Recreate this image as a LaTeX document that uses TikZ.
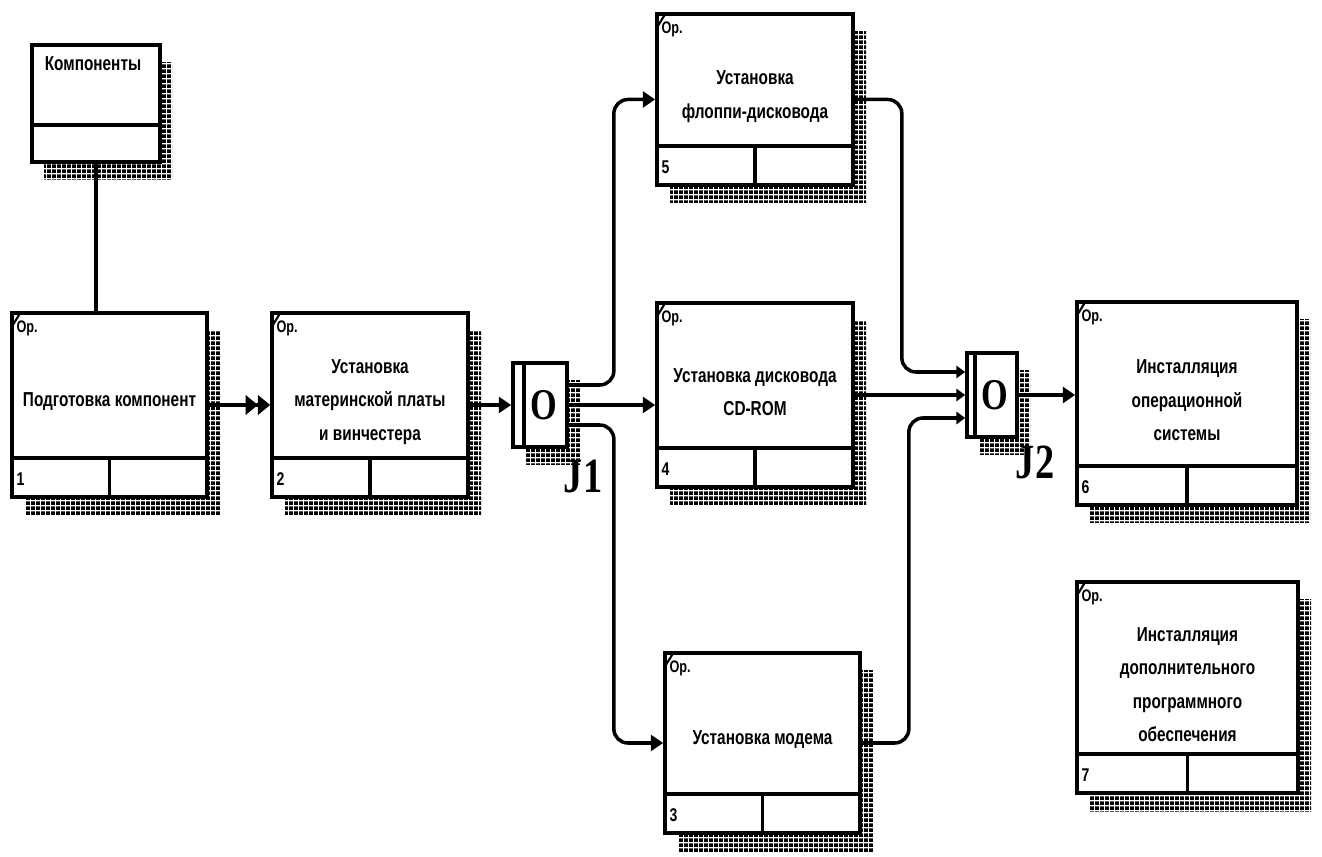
\documentclass[tikz,border=0pt]{standalone}
\usepackage{fontspec}
\setmainfont{Liberation Sans}[FakeStretch=0.76]
\newfontfamily\jfont{Liberation Serif}[FakeStretch=0.78]
\usetikzlibrary{arrows.meta,positioning,calc,patterns,fit}

% dithered shadow
\pgfdeclarepatternformonly{dither}{\pgfpointorigin}{\pgfqpoint{3pt}{3pt}}{\pgfqpoint{3pt}{3pt}}{%
  \pgfpathrectangle{\pgfpointorigin}{\pgfqpoint{2.5pt}{2.3pt}}\pgfusepath{fill}}

% unit of work: name, x1, y1, x2, y2, number, text
\newcommand{\uow}[7]{%
  \fill[pattern=dither] (#2+13,#3+18) rectangle (#4+13,#5+18);
  \node[uowbox, fit={(#2,#3) (#4,#5)}] (#1) {};
  \draw[thick line] ($(#1.south west)+(0,-41)$) -- ($(#1.south east)+(0,-41)$);
  \draw[thick line] ($(#1.south)+(0,-41)$) -- (#1.south);
  \draw[line width=1.2pt] ($(#1.north west)+(2,15)$) -- ($(#1.north west)+(10,2)$);
  \node[oplabel, anchor=north west] (#1-op) at ($(#1.north west)+(6,9)$) {Ор.};
  \node[numlabel, anchor=west] (#1-num) at ($(#1.south west)+(6,-20)$) {#6};
  \node[uowtext] (#1-txt) at ($(#1.center)+(0,-3)$) {#7};
}

\begin{document}
\begin{tikzpicture}[x=0.02cm,y=-0.02cm,
  thick line/.style={line width=2.1pt},
  uowbox/.style={draw,fill=white,line width=2.1pt,inner sep=0pt},
  uowtext/.style={align=center,font=\bfseries\fontsize{11.5}{19}\selectfont},
  oplabel/.style={inner sep=0pt,font=\bfseries\fontsize{9.5}{9.5}\selectfont},
  numlabel/.style={inner sep=0pt,font=\bfseries\fontsize{10.5}{10.5}\selectfont},
  junc/.style={draw,fill=white,line width=2.1pt,inner sep=0pt},
  jtext/.style={font=\jfont\bfseries\fontsize{25}{25}\selectfont},
  jname/.style={font=\jfont\bfseries\fontsize{28}{28}\selectfont},
  link/.style={line width=2pt,-{Triangle[length=7pt,width=9pt]}},
  link2/.style={line width=2pt,-{Triangle[length=7pt,width=11pt]Triangle[length=7pt,width=11pt]}},
  linksmall/.style={line width=2pt,-{Triangle[length=5pt,width=7pt]}}]
  \useasboundingbox (0,0) rectangle (1322,857);

  % object
  \fill[pattern=dither] (32+12,45+18) rectangle (160+12,162+18);
  \node[uowbox, fit={(32,45) (160,162)}] (b0) {};
  \draw[thick line] ($(b0.south west)+(0,-39)$) -- ($(b0.south east)+(0,-39)$);
  \node[uowtext] (b0-txt) at ($(b0.north)+(-3,21)$) {Компоненты};

  % units of work
  \uow{b1}{12}{313}{207}{497}{1}{Подготовка компонент}
  \uow{b2}{272}{313}{468}{497}{2}{Установка\\материнской платы\\и винчестера}
  \uow{b5}{657}{14}{853}{185}{5}{Установка\\флоппи-дисковода}
  \uow{b4}{657}{303}{853}{487}{4}{Установка дисковода\\CD-ROM}
  \uow{b3}{665}{653}{860}{833}{3}{Установка модема}
  \uow{b6}{1077}{302}{1297}{505}{6}{Инсталляция\\операционной\\системы}
  \uow{b7}{1077}{582}{1298}{793}{7}{Инсталляция\\дополнительного\\программного\\обеспечения}

  % junctions
  \fill[pattern=dither] (513+13,363+18) rectangle (567+13,447+18);
  \node[junc, fit={(513,363) (567,447)}] (j1) {};
  \draw[thick line] ($(j1.north west)+(13,0)$) -- ($(j1.south west)+(13,0)$);
  \node[jtext] (j1-o) at ($(j1.center)+(4,0)$) {O};
  \node[jname] (j1-name) at (583,477) {J1};

  \fill[pattern=dither] (967+13,353+18) rectangle (1017+13,437+18);
  \node[junc, fit={(967,353) (1017,437)}] (j2) {};
  \draw[thick line] ($(j2.north west)+(10,0)$) -- ($(j2.south west)+(10,0)$);
  \node[jtext] (j2-o) at ($(j2.center)+(3,0)$) {O};
  \node[jname] (j2-name) at (1035,462) {J2};

  % links
  \draw[thick line] (b0.south) -- (b0.south |- b1.north);
  \draw[link2] (b1.east) -- (b2.west);
  \draw[link] (b2.east) -- (j1.west);

  \coordinate (j1-out1) at ($(j1.east)+(0,-20)$);
  \coordinate (j1-out3) at ($(j1.east)+(0,20)$);
  \draw[link, rounded corners=8pt] (j1-out1) -- ++(45,0) |- (b5.west);
  \draw[link] (j1.east) -- (j1.east -| b4.west);
  \draw[link, rounded corners=8pt] (j1-out3) -- ++(45,0) |- (b3.west);

  \coordinate (j2-in1) at ($(j2.west)+(0,-23)$);
  \coordinate (j2-in3) at ($(j2.west)+(0,23)$);
  \draw[linksmall, rounded corners=8pt] (b5.east) -- ++(47,0) |- (j2-in1);
  \draw[linksmall] (b4.east) -- (b4.east -| j2.west);
  \draw[linksmall, rounded corners=8pt] (b3.east) -- ++(47,0) |- (j2-in3);
  \draw[link] (j2.east) -- (j2.east -| b6.west);
\end{tikzpicture}
\end{document}
